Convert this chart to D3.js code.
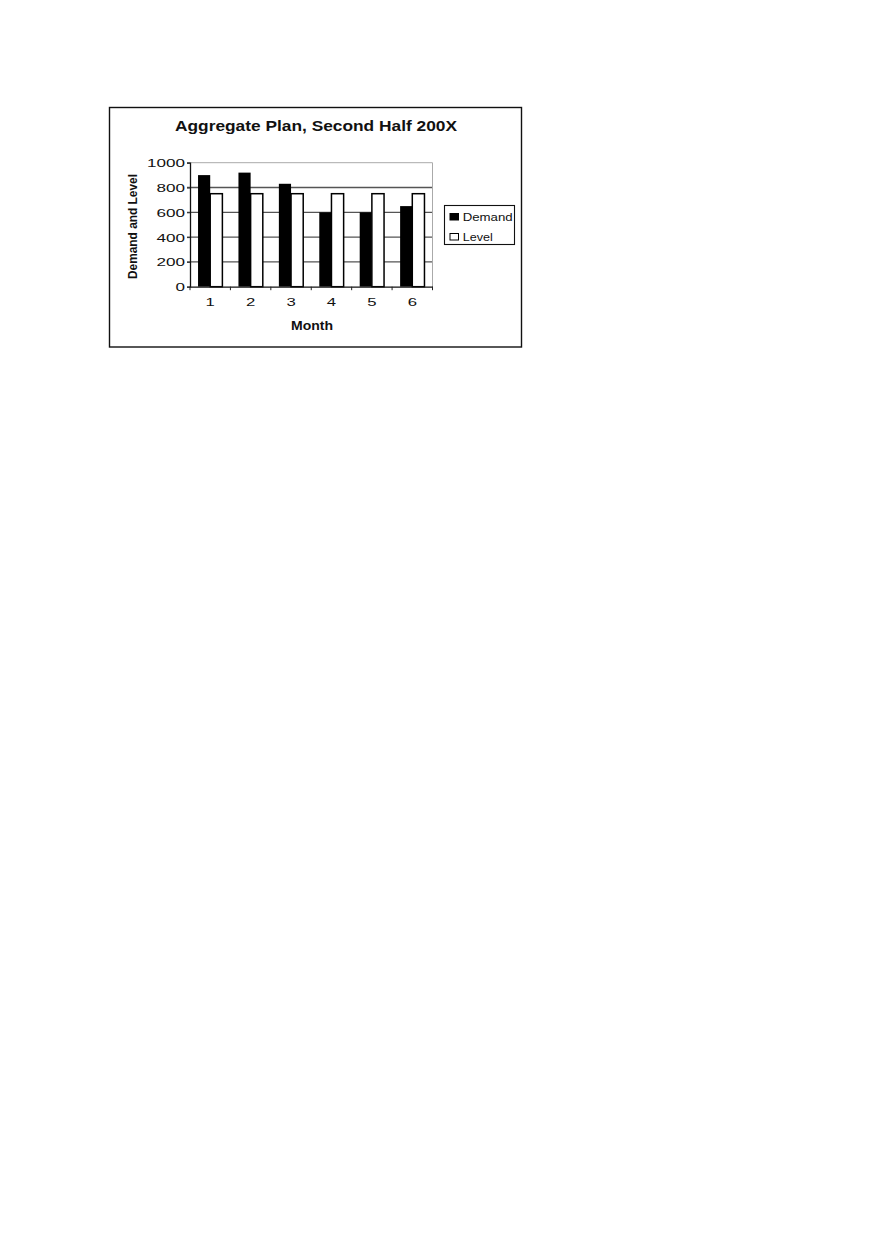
<!DOCTYPE html>
<html>
<head>
<meta charset="utf-8">
<script src="https://cdn.jsdelivr.net/npm/d3@7"></script>
<style>
  html, body { margin: 0; padding: 0; background: #fff; }
  text { font-family: "Liberation Sans", Arial, sans-serif; fill: #111; }
</style>
</head>
<body>
<svg id="chart" width="880" height="1247"></svg>
<script>
var months = ["1", "2", "3", "4", "5", "6"];
var series = ["Demand", "Level"];
var demand = [900, 920, 830, 600, 600, 650];
var level = [750, 750, 750, 750, 750, 750];
var yTicks = [0, 200, 400, 600, 800, 1000];

var svg = d3.select("#chart");

// chart frame
svg.append("rect")
    .attr("x", 109.5).attr("y", 107.5)
    .attr("width", 412).attr("height", 239.5)
    .attr("fill", "#fff").attr("stroke", "#111").attr("stroke-width", 1.4);

var plot = {left: 190, right: 432.5, top: 162.7, bottom: 286.7};

var y = d3.scaleLinear().domain([0, 1000]).range([plot.bottom, plot.top]);
var x0 = d3.scaleBand().domain(months).range([plot.left, plot.right]);
var x1 = d3.scaleBand().domain(series).range([0, x0.bandwidth()]).paddingOuter(0.66);

// gridlines (drawn behind bars)
svg.append("g").selectAll("line")
    .data(yTicks.filter(d => d > 0 && d < 1000))
    .join("line")
    .attr("x1", plot.left - 3).attr("x2", plot.right)
    .attr("y1", d => y(d)).attr("y2", d => y(d))
    .attr("stroke", "#555").attr("stroke-width", 1.3);

// light top and right border of plot area
svg.append("line")
    .attr("x1", plot.left - 3).attr("x2", plot.right)
    .attr("y1", y(1000)).attr("y2", y(1000))
    .attr("stroke", "#aaa").attr("stroke-width", 1);
svg.append("line")
    .attr("x1", plot.right).attr("x2", plot.right)
    .attr("y1", y(1000)).attr("y2", plot.bottom)
    .attr("stroke", "#aaa").attr("stroke-width", 1);

// bars
var rows = months.map((m, i) => ({month: m, Demand: demand[i], Level: level[i]}));
var groups = svg.append("g").selectAll("g")
    .data(rows)
    .join("g")
    .attr("transform", d => "translate(" + x0(d.month) + ",0)");

groups.selectAll("rect")
    .data(d => series.map(s => ({key: s, value: d[s]})))
    .join("rect")
    .attr("x", d => x1(d.key))
    .attr("y", d => y(d.value))
    .attr("width", x1.bandwidth())
    .attr("height", d => plot.bottom - y(d.value))
    .attr("fill", d => d.key == "Demand" ? "#000" : "#fff")
    .attr("stroke", "#000")
    .attr("stroke-width", d => d.key == "Demand" ? 0 : 1.5);

// axes
var yAxis = svg.append("g")
    .attr("transform", "translate(" + plot.left + ",0)")
    .call(d3.axisLeft(y).tickValues(yTicks).tickFormat(d3.format("d")).tickSize(3).tickPadding(2));
yAxis.select(".domain").attr("stroke", "#111").attr("stroke-width", 1.3);
yAxis.selectAll(".tick line").attr("stroke", "#333");
yAxis.selectAll("text")
    .attr("font-size", 11.5)
    .attr("dy", null).attr("y", 4)
    .attr("textLength", d => String(d).length * 9.5)
    .attr("lengthAdjust", "spacingAndGlyphs");

var xAxis = svg.append("g")
    .attr("transform", "translate(0," + plot.bottom + ")")
    .call(d3.axisBottom(x0).tickSize(0).tickPadding(12));
xAxis.select(".domain").attr("stroke", "#111").attr("stroke-width", 1.3);
xAxis.selectAll("text")
    .attr("font-size", 11.5)
    .attr("dy", null).attr("y", 19.5)
    .attr("textLength", 9.3)
    .attr("lengthAdjust", "spacingAndGlyphs");

// category boundary ticks
svg.append("g").selectAll("line")
    .data(months.concat(["end"]))
    .join("line")
    .attr("x1", (d, i) => plot.left + i * x0.step())
    .attr("x2", (d, i) => plot.left + i * x0.step())
    .attr("y1", plot.bottom).attr("y2", plot.bottom + 3.5)
    .attr("stroke", "#222").attr("stroke-width", 1);

// titles
svg.append("text")
    .attr("x", 316).attr("y", 131)
    .attr("text-anchor", "middle")
    .attr("font-size", 14.5).attr("font-weight", "bold")
    .attr("textLength", 282).attr("lengthAdjust", "spacingAndGlyphs")
    .text("Aggregate Plan, Second Half 200X");

svg.append("text")
    .attr("x", 312).attr("y", 330)
    .attr("text-anchor", "middle")
    .attr("font-size", 12).attr("font-weight", "bold")
    .attr("textLength", 42).attr("lengthAdjust", "spacingAndGlyphs")
    .text("Month");

svg.append("text")
    .attr("transform", "translate(136.5,226.5) rotate(-90)")
    .attr("text-anchor", "middle")
    .attr("font-size", 12).attr("font-weight", "bold")
    .attr("textLength", 105).attr("lengthAdjust", "spacingAndGlyphs")
    .text("Demand and Level");

// legend
var legend = svg.append("g").attr("transform", "translate(444,205)");
legend.append("rect")
    .attr("x", 0.5).attr("y", 0.5)
    .attr("width", 70).attr("height", 39)
    .attr("fill", "#fff").attr("stroke", "#111").attr("stroke-width", 1.1);

var legendWidths = {Demand: 50, Level: 30};
var item = legend.selectAll("g.item")
    .data(series)
    .join("g")
    .attr("class", "item")
    .attr("transform", (d, i) => "translate(6," + (8.5 + i * 20) + ")");
item.append("rect")
    .attr("width", 8.5).attr("height", 6.5)
    .attr("fill", d => d == "Demand" ? "#000" : "#fff")
    .attr("stroke", "#000").attr("stroke-width", 1);
item.append("text")
    .attr("x", 12.7).attr("y", 7)
    .attr("font-size", 11.5)
    .attr("textLength", d => legendWidths[d])
    .attr("lengthAdjust", "spacingAndGlyphs")
    .text(d => d);
</script>
</body>
</html>
